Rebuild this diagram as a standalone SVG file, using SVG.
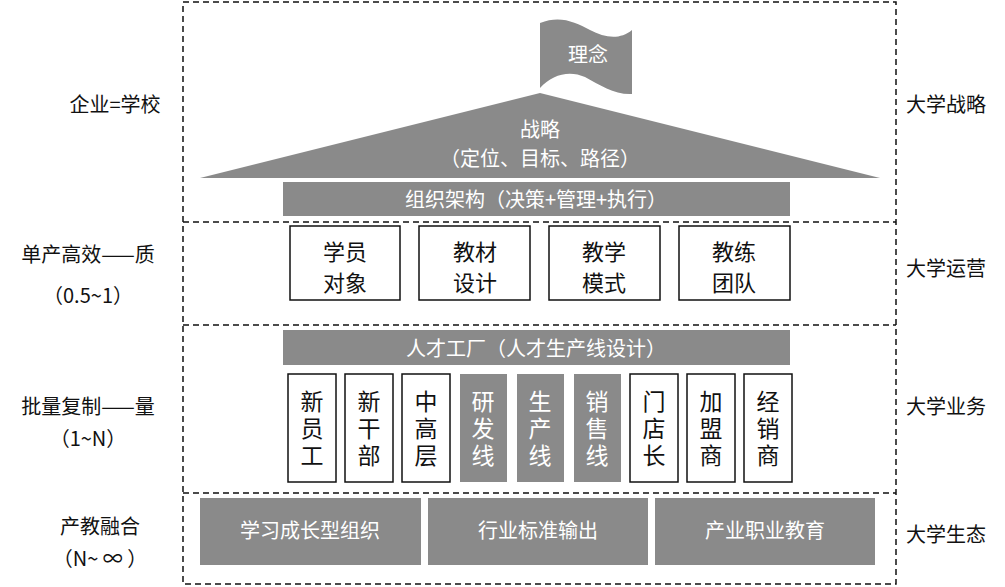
<svg xmlns="http://www.w3.org/2000/svg" width="1005" height="587" viewBox="0 0 1005 587">
<style>
text{font-family:"Noto Sans CJK SC","Liberation Sans",sans-serif;text-anchor:middle}
.lbl{font-size:20px;fill:#111}
.w{fill:#fff;font-size:20px}
.g{fill:#8a8a8a}
.box{fill:#fff;stroke:#111;stroke-width:1.5}
.d{stroke:#111;stroke-width:1.5;stroke-dasharray:6 4;fill:none}
.c{font-size:22px}
.v{font-size:23px;writing-mode:vertical-rl;letter-spacing:4px}
</style>
<rect width="1005" height="587" fill="#fff"/>
<g id="frame">
<rect class="d" x="183" y="2" width="713" height="582"/>
<line class="d" x1="183" y1="222" x2="896" y2="222"/>
<line class="d" x1="183" y1="325" x2="896" y2="325"/>
<line class="d" x1="183" y1="493" x2="896" y2="493"/>
</g>
<g id="labels" class="lbl">
<text x="115" y="112">企业=学校</text>
<text x="88" y="262">单产高效——质</text>
<text x="88" y="303">（0.5~1）</text>
<text x="88" y="414">批量复制——量</text>
<text x="88" y="446">（1~N）</text>
<text x="100" y="534">产教融合</text>
<text x="100" y="566">（N~ ∞ ）</text>
<text x="946" y="112">大学战略</text>
<text x="946" y="276">大学运营</text>
<text x="946" y="414">大学业务</text>
<text x="946" y="542">大学生态</text>
</g>
<g id="roof"><path class="g" d="M540 93 L880 178 L200 178 Z"/><text class="w" x="540" y="137">战略</text><text class="w" x="540" y="166">（定位、目标、路径）</text></g>
<g id="flag"><path class="g" d="M540 23 C560 15 575 22 590 30 C605 38 620 40 632 30 L632 94 C615 95 600 85 585 77 C570 70 552 74 540 88 Z"/><text class="w" x="588" y="62">理念</text></g>
<g id="org"><rect class="g" x="283" y="182" width="507" height="34"/><text class="w" x="536" y="207">组织架构（决策+管理+执行）</text></g>
<g id="b1"><rect class="box" x="290" y="226" width="110" height="74"/><text class="lbl c" x="345" y="260">学员</text><text class="lbl c" x="345" y="291">对象</text></g>
<g id="b2"><rect class="box" x="419" y="226" width="111" height="74"/><text class="lbl c" x="475" y="260">教材</text><text class="lbl c" x="475" y="291">设计</text></g>
<g id="b3"><rect class="box" x="549" y="226" width="111" height="74"/><text class="lbl c" x="604" y="260">教学</text><text class="lbl c" x="604" y="291">模式</text></g>
<g id="b4"><rect class="box" x="679" y="226" width="111" height="74"/><text class="lbl c" x="734" y="260">教练</text><text class="lbl c" x="734" y="291">团队</text></g>
<g id="factory"><rect class="g" x="283" y="330" width="507" height="35"/><text class="w" x="536" y="356">人才工厂（人才生产线设计）</text></g>
<g id="c1"><rect class="box" x="288" y="374" width="48" height="108"/><text class="lbl v" x="312" y="430">新员工</text></g>
<g id="c2"><rect class="box" x="345" y="374" width="48" height="108"/><text class="lbl v" x="369" y="430">新干部</text></g>
<g id="c3"><rect class="box" x="402" y="374" width="48" height="108"/><text class="lbl v" x="426" y="430">中高层</text></g>
<g id="c4"><rect class="g" x="460" y="374" width="47" height="108"/><text class="w v" x="483" y="430">研发线</text></g>
<g id="c5"><rect class="g" x="517" y="374" width="47" height="108"/><text class="w v" x="540" y="430">生产线</text></g>
<g id="c6"><rect class="g" x="574" y="374" width="47" height="108"/><text class="w v" x="597" y="430">销售线</text></g>
<g id="c7"><rect class="box" x="630" y="374" width="48" height="108"/><text class="lbl v" x="654" y="430">门店长</text></g>
<g id="c8"><rect class="box" x="687" y="374" width="48" height="108"/><text class="lbl v" x="711" y="430">加盟商</text></g>
<g id="c9"><rect class="box" x="744" y="374" width="48" height="108"/><text class="lbl v" x="768" y="430">经销商</text></g>
<g id="e1"><rect class="g" x="200" y="498" width="221" height="67"/><text class="w" x="310" y="538">学习成长型组织</text></g>
<g id="e2"><rect class="g" x="428" y="498" width="220" height="67"/><text class="w" x="538" y="538">行业标准输出</text></g>
<g id="e3"><rect class="g" x="655" y="498" width="220" height="67"/><text class="w" x="765" y="538">产业职业教育</text></g>
<g id="connectors"/>
</svg>
